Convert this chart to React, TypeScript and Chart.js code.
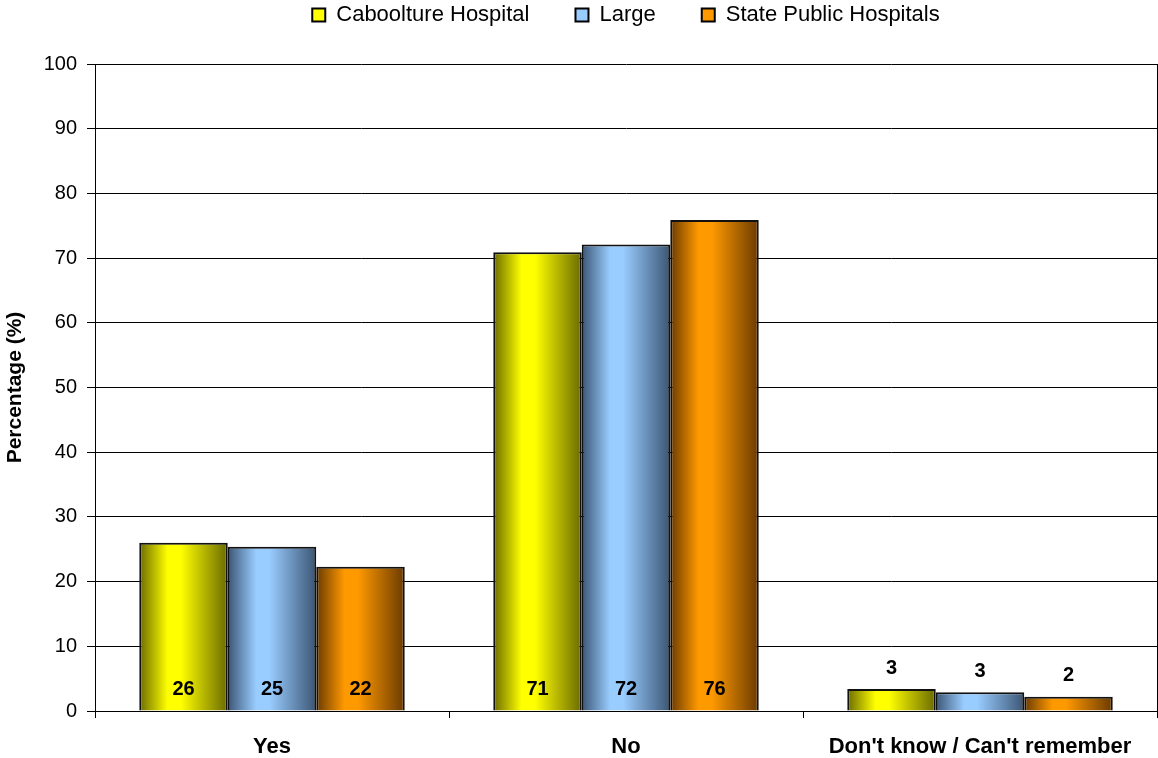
import React, { useEffect, useRef } from "react";
import { Chart, registerables } from "chart.js";

Chart.register(...registerables);

const categories = ["Yes", "No", "Don't know / Can't remember"];
const seriesNames = ["Caboolture Hospital", "Large", "State Public Hospitals"];
const cabooltureValues = [26.0, 70.9, 3.4];
const largeValues = [25.4, 72.1, 2.9];
const stateValues = [22.3, 75.9, 2.2];
const yTicks = [0, 10, 20, 30, 40, 50, 60, 70, 80, 90, 100];

// bright centre / dark edge pairs for the shaded bars
const brightColors = ["#ffff00", "#99ccff", "#ff9900"];
const darkColors = ["#6a6a00", "#3b5574", "#6a3a00"];

const FONT = "'Liberation Sans', Arial, Helvetica, sans-serif";
const LEGEND_GAP = 46;

const shadedBars = {
  id: "shadedBars",
  beforeDatasetsDraw(chart: any) {
    const ctx = chart.ctx;
    chart.data.datasets.forEach((_ds: any, di: number) => {
      const meta = chart.getDatasetMeta(di);
      meta.data.forEach((el: any) => {
        const { x, width } = el.getProps(["x", "width"], true);
        const left = x - width / 2;
        const g = ctx.createLinearGradient(left, 0, left + width, 0);
        g.addColorStop(0, darkColors[di]);
        g.addColorStop(0.32, brightColors[di]);
        g.addColorStop(0.47, brightColors[di]);
        g.addColorStop(1, darkColors[di]);
        el.options = Object.assign({}, el.options, { backgroundColor: g });
      });
    });
  },
};

const valueLabels = {
  id: "valueLabels",
  afterDatasetsDraw(chart: any) {
    const ctx = chart.ctx;
    ctx.save();
    ctx.font = `bold 20px ${FONT}`;
    ctx.fillStyle = "#000";
    ctx.textAlign = "center";
    ctx.textBaseline = "middle";
    chart.data.datasets.forEach((ds: any, di: number) => {
      const meta = chart.getDatasetMeta(di);
      meta.data.forEach((el: any, i: number) => {
        const { x, y, base } = el.getProps(["x", "y", "base"], true);
        const h = base - y;
        const ly = h >= 30 ? base - 21 : y - 21;
        ctx.fillText(String(Math.round(ds.data[i])), x, ly);
      });
    });
    ctx.restore();
  },
};

const frameAndLegend = {
  id: "frameAndLegend",
  beforeInit(chart: any) {
    const legend = chart.legend;
    if (legend) {
      const fit = legend.fit;
      legend.fit = function () {
        fit.call(this);
        this.height = 64;
      };
    }
  },
  afterLayout(chart: any) {
    const legend = chart.legend;
    const area = chart.chartArea;
    if (legend && area) {
      // centre the legend over the plot area and lift it to the top edge
      legend.left = area.left;
      legend.right = area.right;
      legend.width = area.right - area.left;
      legend.top = 15 - LEGEND_GAP - 11;
    }
  },
  afterDraw(chart: any) {
    const { ctx, chartArea } = chart;
    ctx.save();
    ctx.strokeStyle = "#000";
    ctx.lineWidth = 1;
    ctx.beginPath();
    ctx.moveTo(chartArea.right + 0.5, chartArea.top);
    ctx.lineTo(chartArea.right + 0.5, chartArea.bottom);
    ctx.stroke();
    ctx.restore();
  },
};

export default function App() {
  const canvasRef = useRef<HTMLCanvasElement | null>(null);

  useEffect(() => {
    document.body.style.margin = "0";
    const canvas = canvasRef.current;
    if (!canvas) return;
    const seriesValues = [cabooltureValues, largeValues, stateValues];
    const chart = new Chart(canvas, {
      type: "bar",
      data: {
        labels: categories,
        datasets: seriesNames.map((name, i) => ({
          label: name,
          data: seriesValues[i],
          backgroundColor: () => brightColors[i],
          borderColor: "#111",
          borderWidth: 2,
          categoryPercentage: 0.75,
          barPercentage: 1,
        })),
      },
      options: {
        animation: false,
        responsive: false,
        devicePixelRatio: 1,
        layout: { padding: { left: 0, right: 1, top: 0, bottom: 0 } },
        plugins: {
          tooltip: { enabled: false },
          legend: {
            position: "top",
            align: "center",
            labels: {
              color: "#000",
              font: { family: FONT, size: 22 },
              boxWidth: 13,
              boxHeight: 13,
              padding: LEGEND_GAP,
              generateLabels: () =>
                seriesNames.map((name, i) => ({
                  text: name,
                  fillStyle: brightColors[i],
                  strokeStyle: "#000",
                  lineWidth: 2,
                  hidden: false,
                  datasetIndex: i,
                })),
            },
          },
        },
        scales: {
          x: {
            type: "category",
            grid: {
              offset: true,
              drawOnChartArea: false,
              drawTicks: true,
              tickLength: 7,
              color: "#000",
            },
            border: { display: true, color: "#000", width: 1 },
            ticks: {
              color: "#000",
              font: { family: FONT, size: 22, weight: "bold" },
              padding: 16,
              maxRotation: 0,
              autoSkip: false,
            },
            afterFit(scale: any) {
              scale.height = 47;
            },
          },
          y: {
            min: 0,
            max: 100,
            afterBuildTicks(scale: any) {
              scale.ticks = yTicks.map((v) => ({ value: v }));
            },
            grid: {
              color: "#000",
              lineWidth: 1,
              drawTicks: true,
              tickLength: 8,
            },
            border: { display: true, color: "#000", width: 1 },
            ticks: {
              color: "#000",
              font: { family: FONT, size: 20 },
              padding: 10,
            },
            title: {
              display: true,
              text: "Percentage (%)",
              color: "#000",
              font: { family: FONT, size: 21, weight: "bold" },
              padding: { top: 3, bottom: 0 },
            },
            afterFit(scale: any) {
              scale.width = 95;
            },
          },
        },
      },
      plugins: [shadedBars, valueLabels, frameAndLegend],
    });
    return () => chart.destroy();
  }, []);

  return (
    <div style={{ width: 1158, height: 758 }}>
      <canvas ref={canvasRef} width={1158} height={758} />
    </div>
  );
}
